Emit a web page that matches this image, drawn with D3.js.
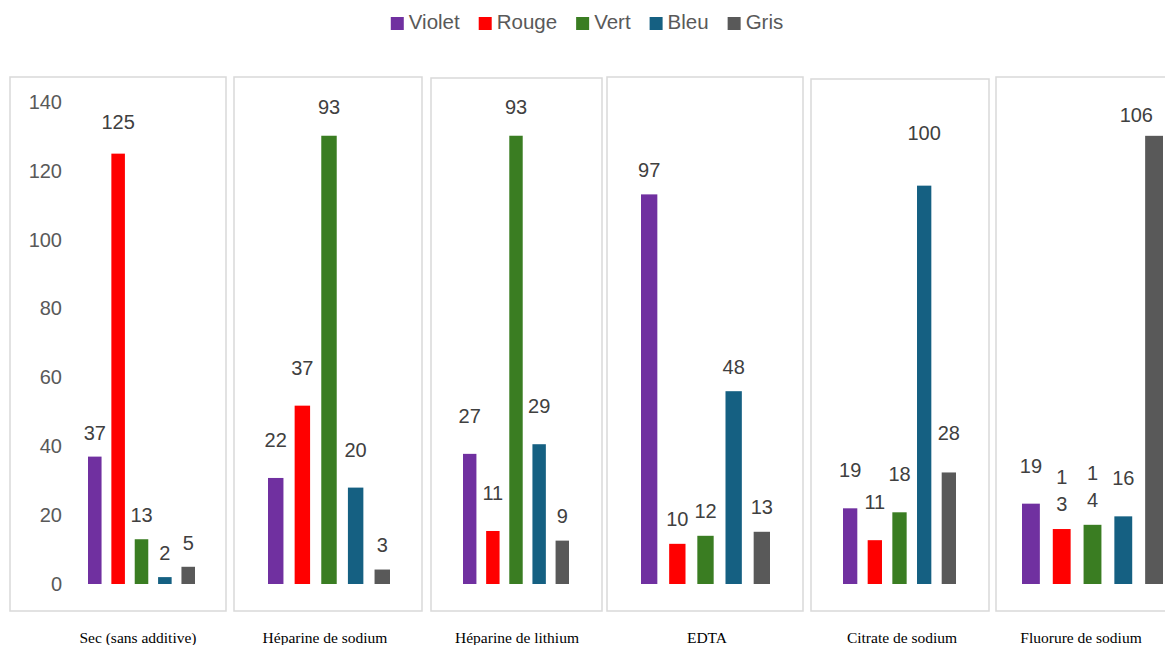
<!DOCTYPE html>
<html>
<head>
<meta charset="utf-8">
<script src="https://cdn.jsdelivr.net/npm/d3@7"></script>
<style>
  body { margin: 0; background: #fff; }
  svg { display: block; }
</style>
</head>
<body>
<svg id="chart" width="1165" height="645"></svg>
<script>
// data
var series = ["Violet", "Rouge", "Vert", "Bleu", "Gris"];
var colors = ["#7030A0", "#FF0000", "#3A7D22", "#156082", "#595959"];
var categories = ["Sec (sans additive)", "Héparine de sodium", "Héparine de lithium",
                  "EDTA", "Citrate de sodium", "Fluorure de sodium"];
var values = [
  [37, 125, 13, 2, 5],
  [22, 37, 93, 20, 3],
  [27, 11, 93, 29, 9],
  [97, 10, 12, 48, 13],
  [19, 11, 18, 100, 28],
  [19, 13, 14, 16, 106]
];
// each panel is its own little chart with its own scale top
var yMax = [140, 100, 100, 120, 121, 114];
var yTicks = [0, 20, 40, 60, 80, 100, 120, 140];
// labels that wrap onto two lines in the last panel: [panel, series]
var brokenLabels = [[5, 1], [5, 2]];

// layout of each panel box, gaps = label centre distance above each bar
var panels = [
  {fx0: 10,  fx1: 226,  fy0: 77, bx0: 88,   bx1: 195,  lx: 138,  gaps: [24, 32, 24, 24, 24]},
  {fx0: 234, fx1: 422,  fy0: 77, bx0: 268,  bx1: 390,  lx: 325,  gaps: [38, 38, 29, 38, 25]},
  {fx0: 431, fx1: 602,  fy0: 78, bx0: 463,  bx1: 569,  lx: 517,  gaps: [38, 38, 29, 38, 25]},
  {fx0: 607, fx1: 803,  fy0: 77, bx0: 641,  bx1: 770,  lx: 707,  gaps: [24, 25, 25, 24, 25]},
  {fx0: 811, fx1: 989,  fy0: 79, bx0: 843,  bx1: 956,  lx: 902,  gaps: [38, 38, 38, 53, 39]},
  {fx0: 996, fx1: 1180, fy0: 77, bx0: 1022, bx1: 1163, lx: 1081, gaps: [38, 25, 25, 38, 21]}
];
var baseY = 584, topY = 102, frameBottom = 611, labelRightLimit = 1153;

var svg = d3.select("#chart");

// legend
var legend = svg.append("g").attr("class", "legend");
var lx = 0;
series.forEach(function(s, i){
  var item = legend.append("g").attr("transform", "translate(" + lx + ",0)");
  item.append("rect")
    .attr("x", 0).attr("y", 17).attr("width", 13).attr("height", 13)
    .attr("fill", colors[i]);
  var t = item.append("text")
    .attr("x", 18).attr("y", 29)
    .style("font-family", "'Liberation Sans', Arial, sans-serif")
    .style("font-size", "20.5px")
    .attr("fill", "#595959")
    .text(s);
  lx += 18 + t.node().getComputedTextLength() + 19;
});
var lw = lx - 19;
legend.attr("transform", "translate(" + (587 - lw / 2) + ",0)");

panels.forEach(function(p, pi){
  var g = svg.append("g").attr("class", "panel");

  g.append("rect")
    .attr("x", p.fx0).attr("y", p.fy0)
    .attr("width", p.fx1 - p.fx0).attr("height", frameBottom - p.fy0)
    .attr("fill", "none")
    .attr("stroke", "#d9d9d9")
    .attr("stroke-width", 1.5);

  var x = d3.scaleBand()
    .domain(series)
    .range([p.bx0, p.bx1])
    .paddingInner(0.42)
    .paddingOuter(0);
  var y = d3.scaleLinear().domain([0, yMax[pi]]).range([baseY, topY]);

  if (pi === 0) {
    var ax = g.append("g")
      .attr("transform", "translate(66,0)")
      .call(d3.axisLeft(y).tickValues(yTicks).tickSize(0).tickPadding(4));
    ax.select(".domain").remove();
    ax.selectAll("text")
      .style("font-family", "'Liberation Sans', Arial, sans-serif")
      .style("font-size", "20px")
      .attr("fill", "#595959");
  }

  var rows = values[pi].map(function(v, i){ return {s: series[i], v: v, i: i}; });

  g.selectAll("rect.bar").data(rows).enter().append("rect")
    .attr("class", "bar")
    .attr("x", function(d){ return x(d.s); })
    .attr("width", x.bandwidth())
    .attr("y", function(d){ return y(d.v); })
    .attr("height", function(d){ return baseY - y(d.v); })
    .attr("fill", function(d){ return colors[d.i]; });

  var labels = g.selectAll("text.val").data(rows).enter().append("text")
    .attr("class", "val")
    .attr("text-anchor", "middle")
    .style("font-family", "'Liberation Sans', Arial, sans-serif")
    .style("font-size", "20px")
    .attr("fill", "#404040");

  labels.each(function(d){
    var el = d3.select(this);
    var broken = brokenLabels.some(function(b){ return b[0] === pi && b[1] === d.i; });
    var cx = x(d.s) + x.bandwidth() / 2;
    var gap = p.gaps[d.i];
    if (broken) {
      var parts = String(d.v).split("");
      var bottom = y(d.v) - gap;
      parts.forEach(function(ch, k){
        el.append("tspan")
          .attr("x", cx)
          .attr("y", bottom - (parts.length - 1 - k) * 27)
          .attr("dy", "0.35em")
          .text(ch);
      });
    } else {
      el.attr("x", cx).attr("y", y(d.v) - gap).attr("dy", "0.35em").text(d.v);
      // keep the label inside the picture, like the original does
      var half = this.getComputedTextLength() / 2;
      if (cx + half > labelRightLimit) el.attr("x", labelRightLimit - half);
    }
  });

  g.append("text")
    .attr("x", p.lx).attr("y", 643)
    .attr("text-anchor", "middle")
    .style("font-family", "'Liberation Serif', 'Times New Roman', serif")
    .style("font-size", "15.5px")
    .attr("fill", "#000")
    .text(categories[pi]);
});
</script>
</body>
</html>
